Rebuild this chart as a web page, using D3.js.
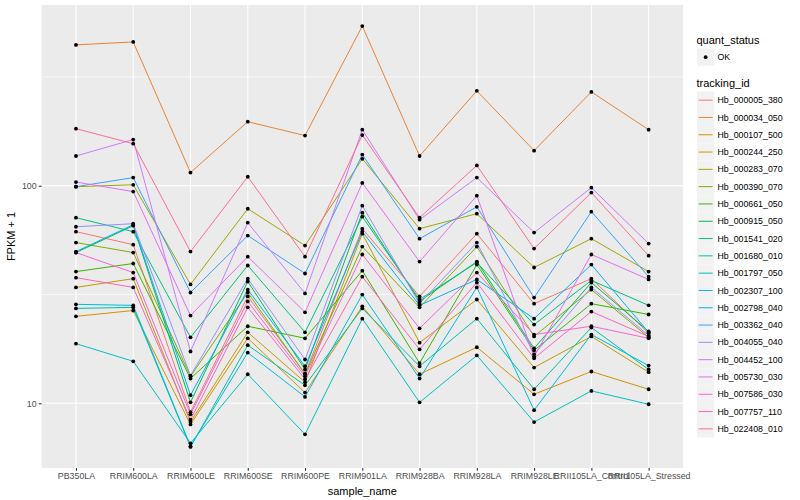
<!DOCTYPE html>
<html>
<head>
<meta charset="utf-8">
<script src="https://cdn.jsdelivr.net/npm/d3@7"></script>
<style>
  body { margin: 0; background: #fff; }
  text { font-family: "Liberation Sans", Arial, Helvetica, sans-serif; }
</style>
</head>
<body>
<svg id="chart" width="800" height="500"></svg>
<script>
// sample names on the x axis
const samples = ["PB350LA", "RRIM600LA", "RRIM600LE", "RRIM600SE", "RRIM600PE", "RRIM901LA",
  "RRIM928BA", "RRIM928LA", "RRIM928LE", "RRII105LA_Control", "RRII105LA_Stressed"]

const trackingIds = ["Hb_000005_380", "Hb_000034_050", "Hb_000107_500", "Hb_000244_250", "Hb_000283_070",
  "Hb_000390_070", "Hb_000661_050", "Hb_000915_050", "Hb_001541_020", "Hb_001680_010",
  "Hb_001797_050", "Hb_002307_100", "Hb_002798_040", "Hb_003362_040", "Hb_004055_040",
  "Hb_004452_100", "Hb_005730_030", "Hb_007586_030", "Hb_007757_110", "Hb_022408_010"]

// FPKM + 1, one array per tracking id (same order as samples)
const hb_000005_380 = [61.5, 53.6, 9.1, 31.0, 13.7, 63.5, 31.0, 60.2, 28.7, 37.4, 21.0]
const hb_000034_050 = [444, 458, 115, 197, 170, 542, 137, 273, 145, 270, 181]
const hb_000107_500 = [25.1, 26.7, 8.0, 19.9, 11.2, 27.9, 13.6, 18.1, 11.0, 14.0, 11.6]
const hb_000244_250 = [34.1, 37.4, 8.2, 21.2, 12.5, 60.2, 19.0, 30.0, 14.6, 20.3, 13.9]
const hb_000283_070 = [99, 101, 35.2, 78.4, 53.1, 133, 63.5, 74.4, 42.1, 57.1, 40.3]
const hb_000390_070 = [54.8, 49.3, 13.3, 32.3, 13.6, 52.5, 27.6, 52.5, 20.3, 33.3, 20.1]
const hb_000661_050 = [40.3, 43.9, 13.0, 22.6, 19.9, 40.7, 15.3, 43.4, 17.5, 28.7, 25.6]
const hb_000915_050 = [49.3, 65.5, 10.1, 36.3, 14.3, 75.2, 29.4, 44.8, 17.9, 35.9, 21.4]
const hb_001541_020 = [71.3, 61.5, 20.1, 43.0, 21.2, 72.1, 30.0, 44.4, 23.0, 36.7, 28.2]
const hb_001680_010 = [27.3, 27.6, 6.3, 18.5, 12.1, 27.3, 14.8, 24.5, 11.6, 22.3, 14.3]
const hb_001797_050 = [18.8, 15.6, 6.55, 13.6, 7.2, 24.5, 10.1, 16.6, 8.2, 11.4, 9.9]
const hb_002307_100 = [28.5, 28.2, 6.35, 17.1, 10.7, 31.6, 13.0, 34.1, 9.3, 20.7, 14.9]
const hb_002798_040 = [49.8, 66.2, 10.9, 33.3, 14.8, 61.5, 28.2, 37.1, 24.5, 43.4, 21.2]
const hb_003362_040 = [99, 109, 32.3, 59.0, 39.5, 139, 57.1, 80, 30.6, 76, 38.2]
const hb_004055_040 = [64.8, 66.9, 13.4, 37.4, 15.9, 81, 28.7, 54.8, 16.8, 34.1, 20.5]
const hb_004452_100 = [137, 163, 17.3, 67.7, 32.0, 181, 69.8, 109, 60.9, 98, 54.2]
const hb_005730_030 = [104, 94, 25.3, 47.2, 26.2, 103, 44.8, 90, 16.4, 48.3, 37.1]
const hb_007586_030 = [49.3, 39.9, 8.9, 29.4, 13.3, 48.3, 22.1, 39.9, 20.7, 22.6, 19.9]
const hb_007757_110 = [37.8, 34.1, 8.4, 27.6, 12.9, 38.2, 17.7, 35.9, 16.1, 26.4, 20.3]
const hb_022408_010 = [183, 156, 49.8, 110, 47.2, 171, 71.3, 124, 51.4, 93, 47.7]

const yBreaks = [10, 100]
const quantStatus = ["OK"]

// ggplot default hue palette for 20 levels
const colors = ["#F8766D", "#EA8331", "#D89000", "#C09B00", "#A3A500", "#7CAE00", "#39B600", "#00BB4E",
  "#00BF7D", "#00C1A3", "#00BFC4", "#00BAE0", "#00B0F6", "#35A2FF", "#9590FF", "#C77CFF",
  "#E76BF3", "#FA62DB", "#FF62BC", "#FF6C91"]

const allSeries = [hb_000005_380, hb_000034_050, hb_000107_500, hb_000244_250, hb_000283_070,
  hb_000390_070, hb_000661_050, hb_000915_050, hb_001541_020, hb_001680_010,
  hb_001797_050, hb_002307_100, hb_002798_040, hb_003362_040, hb_004055_040,
  hb_004452_100, hb_005730_030, hb_007586_030, hb_007757_110, hb_022408_010]

const series = trackingIds.map((id, i) => ({
  id: id,
  color: colors[i],
  values: allSeries[i].map((v, j) => ({ sample: samples[j], value: v }))
}))

const svg = d3.select("#chart")
svg.append("rect").attr("width", 800).attr("height", 500).attr("fill", "#fff")

const panel = { left: 41.6, right: 683, top: 5, bottom: 468 }

const x = d3.scalePoint().domain(samples).range([panel.left, panel.right]).padding(0.6)

let vals = series.flatMap(s => s.values.map(d => d.value))
let lmin = Math.log10(d3.min(vals))
let lmax = Math.log10(d3.max(vals))
let pad = (lmax - lmin) * 0.05
const y = d3.scaleLog()
  .domain([Math.pow(10, lmin - pad), Math.pow(10, lmax + pad)])
  .range([panel.bottom, panel.top])

// panel background
svg.append("rect")
  .attr("x", panel.left).attr("y", panel.top)
  .attr("width", panel.right - panel.left).attr("height", panel.bottom - panel.top)
  .attr("fill", "#EBEBEB")

// minor grid (midpoints in log space)
let minor = [Math.pow(10, 1.5), Math.pow(10, 2.5)]
svg.selectAll(".minor").data(minor).join("line")
  .attr("x1", panel.left).attr("x2", panel.right)
  .attr("y1", d => y(d)).attr("y2", d => y(d))
  .style("stroke", "#fff").style("stroke-width", 0.55)

svg.selectAll(".hgrid").data(yBreaks).join("line")
  .attr("x1", panel.left).attr("x2", panel.right)
  .attr("y1", d => y(d)).attr("y2", d => y(d))
  .style("stroke", "#fff").style("stroke-width", 1.1)

svg.selectAll(".vgrid").data(samples).join("line")
  .attr("x1", d => x(d)).attr("x2", d => x(d))
  .attr("y1", panel.top).attr("y2", panel.bottom)
  .style("stroke", "#fff").style("stroke-width", 1.1)

// lines
let line = d3.line().x(d => x(d.sample)).y(d => y(d.value))
svg.append("g").selectAll("path").data(series).join("path")
  .attr("d", d => line(d.values))
  .style("fill", "none")
  .style("stroke", d => d.color)
  .style("stroke-width", 1)

// points
svg.append("g").selectAll("circle").data(series.flatMap(s => s.values)).join("circle")
  .attr("cx", d => x(d.sample))
  .attr("cy", d => y(d.value))
  .attr("r", 1.9)
  .style("fill", "#000")

// axes
let yAxis = svg.append("g").attr("transform", `translate(${panel.left},0)`)
  .call(d3.axisLeft(y).tickValues(yBreaks).tickFormat(d3.format("d")).tickSize(2.75).tickPadding(2.2))
let xAxis = svg.append("g").attr("transform", `translate(0,${panel.bottom})`)
  .call(d3.axisBottom(x).tickSize(2.75).tickPadding(2.2))

for (let ax of [xAxis, yAxis]) {
  ax.select(".domain").remove()
  ax.selectAll(".tick line").style("stroke", "#333333").style("stroke-width", 1.1)
  ax.selectAll(".tick text").style("fill", "#4D4D4D").style("font-size", "8.8px")
    .style("font-family", "'Liberation Sans', Arial, sans-serif")
}

svg.append("text")
  .attr("x", (panel.left + panel.right) / 2).attr("y", 495)
  .attr("text-anchor", "middle")
  .style("font-size", "11px")
  .text("sample_name")

svg.append("text")
  .attr("transform", `translate(15,${(panel.top + panel.bottom) / 2}) rotate(-90)`)
  .attr("text-anchor", "middle")
  .style("font-size", "11px")
  .text("FPKM + 1")

// legends
let lg = svg.append("g").attr("transform", "translate(696.5,0)")

lg.append("text").attr("x", 0).attr("y", 44).style("font-size", "11px").text("quant_status")
let qk = lg.selectAll(".qkey").data(quantStatus).join("g")
  .attr("transform", (d, i) => `translate(0.5,${48.5 + i * 17.3})`)
qk.append("rect").attr("width", 17.3).attr("height", 17.3).attr("fill", "#F2F2F2")
qk.append("circle").attr("cx", 8.65).attr("cy", 8.65).attr("r", 1.9).attr("fill", "#000")
qk.append("text").attr("x", 20.5).attr("y", 8.65).attr("dy", "0.35em")
  .style("font-size", "8.8px").text(d => d)

lg.append("text").attr("x", 0).attr("y", 87).style("font-size", "11px").text("tracking_id")
let tk = lg.selectAll(".tkey").data(series).join("g")
  .attr("transform", (d, i) => `translate(0.5,${91.5 + i * 17.3})`)
tk.append("rect").attr("width", 17.3).attr("height", 17.3).attr("fill", "#F2F2F2")
tk.append("line").attr("x1", 1.7).attr("x2", 15.6).attr("y1", 8.65).attr("y2", 8.65)
  .style("stroke", d => d.color).style("stroke-width", 1)
tk.append("text").attr("x", 20.5).attr("y", 8.65).attr("dy", "0.35em")
  .style("font-size", "8.8px").text(d => d.id)
</script>
</body>
</html>
